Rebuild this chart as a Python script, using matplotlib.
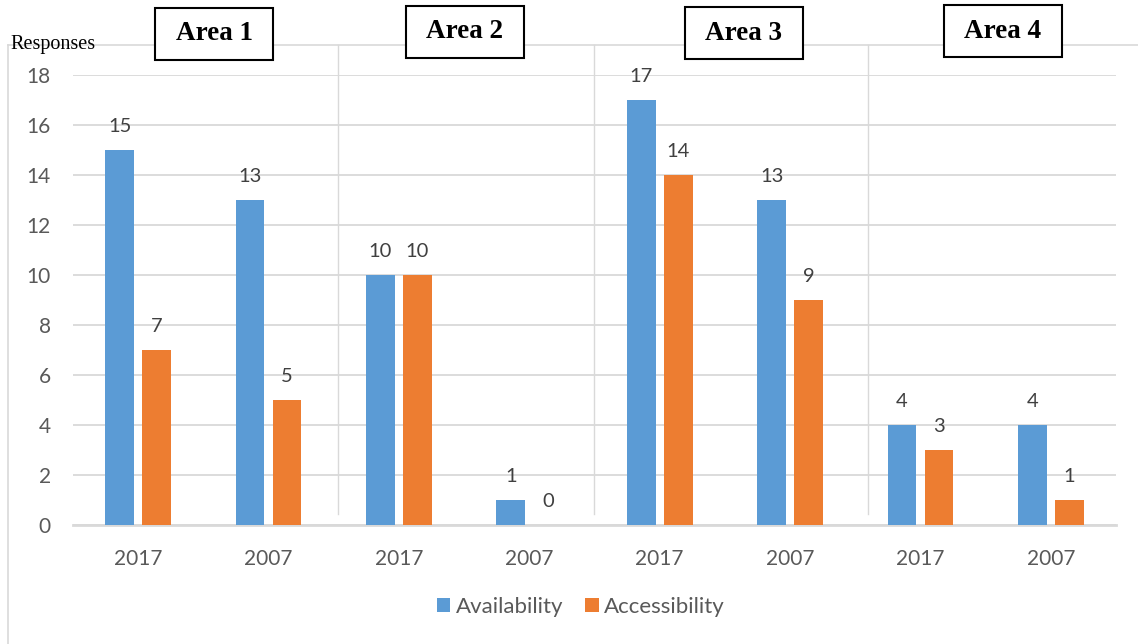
import matplotlib
matplotlib.use("Agg")
import matplotlib.pyplot as plt
from matplotlib.patches import Rectangle
from matplotlib.lines import Line2D
import numpy as np

# Survey responses per area and year
years = ["2017", "2007", "2017", "2007", "2017", "2007", "2017", "2007"]
areas = ["Area 1", "Area 2", "Area 3", "Area 4"]
availability = [15, 13, 10, 1, 17, 13, 4, 4]
accessibility = [7, 5, 10, 0, 14, 9, 3, 1]
yticks = [0, 2, 4, 6, 8, 10, 12, 14, 16, 18]

BLUE = "#5B9BD5"
ORANGE = "#ED7D31"
GRID = "#D9D9D9"
TICK = "#595959"
LABEL = "#404040"
SANS = ["Lato", "DejaVu Sans"]
SERIF = ["Liberation Serif", "DejaVu Serif"]

W, H = 1138, 644
fig = plt.figure(figsize=(W / 100, H / 100), dpi=100)


def fx(px):
    return px / W


def fy(py):
    return 1 - py / H


# Outer frame (top and left edges)
fig.add_artist(Line2D([fx(8), fx(W)], [fy(45), fy(45)], color=GRID, lw=1.2,
                      transform=fig.transFigure))
fig.add_artist(Line2D([fx(8), fx(8)], [fy(45), fy(H)], color=GRID, lw=1.2,
                      transform=fig.transFigure))

# Separators between areas
for sx in [338, 594, 868]:
    fig.add_artist(Line2D([fx(sx), fx(sx)], [fy(45), fy(514)], color=GRID,
                          lw=1.0, transform=fig.transFigure))

ax = fig.add_axes([fx(73), fy(525), fx(1116) - fx(73), (525 - 75) / H])
ax.set_facecolor("none")

x = np.arange(len(years))
bw = 0.22
off = 0.142
b1 = ax.bar(x - off, availability, bw, color=BLUE, label="Availability", zorder=3)
b2 = ax.bar(x + off, accessibility, bw, color=ORANGE, label="Accessibility", zorder=3)

for bars, vals in [(b1, availability), (b2, accessibility)]:
    for rect, v in zip(bars, vals):
        ax.annotate(str(v), (rect.get_x() + rect.get_width() / 2, v),
                    xytext=(0, 13), textcoords="offset points",
                    ha="center", va="baseline", fontsize=14.5,
                    color=LABEL, family=SANS)

ax.set_xlim(-0.5, len(years) - 0.5)
ax.set_ylim(0, 18)
ax.set_yticks(yticks)
ax.set_xticks(x)
ax.set_xticklabels(years)
ax.yaxis.grid(True, color=GRID, lw=1.3, zorder=0)
ax.set_axisbelow(True)
for s in ["top", "right", "left"]:
    ax.spines[s].set_visible(False)
ax.spines["bottom"].set_color(GRID)
ax.spines["bottom"].set_linewidth(2)
ax.tick_params(axis="both", length=0, colors=TICK, labelsize=15)
ax.tick_params(axis="y", pad=16)
ax.tick_params(axis="x", pad=17)
for lab in ax.get_xticklabels() + ax.get_yticklabels():
    lab.set_family(SANS)

# Axis caption
fig.text(fx(10), fy(49), "Responses", family=SERIF, fontsize=14.5,
         ha="left", va="baseline", color="black")

# Area boxes
boxes = [(155, 8, 273, 60), (406, 6, 524, 58), (685, 7, 803, 59), (944, 5, 1062, 57)]
for name, (x0, y0, x1, y1) in zip(areas, boxes):
    fig.add_artist(Rectangle((fx(x0), fy(y1)), fx(x1) - fx(x0), fy(y0) - fy(y1),
                             transform=fig.transFigure, facecolor="white",
                             edgecolor="black", lw=1.5, zorder=5))
    fig.text(fx((x0 + x1) / 2), fy((y0 + y1) / 2), name, family=SERIF,
             fontweight="bold", fontsize=19.5, ha="center", va="center",
             zorder=6)

leg = fig.legend(handles=[b1, b2], loc="center", bbox_to_anchor=(fx(581), fy(607)),
                 ncol=2, frameon=False, handlelength=0.6, handleheight=0.6,
                 handletextpad=0.25, columnspacing=1.0,
                 prop={"family": SANS, "size": 16})
for t in leg.get_texts():
    t.set_color(TICK)

fig.savefig("out.png", dpi=100)
